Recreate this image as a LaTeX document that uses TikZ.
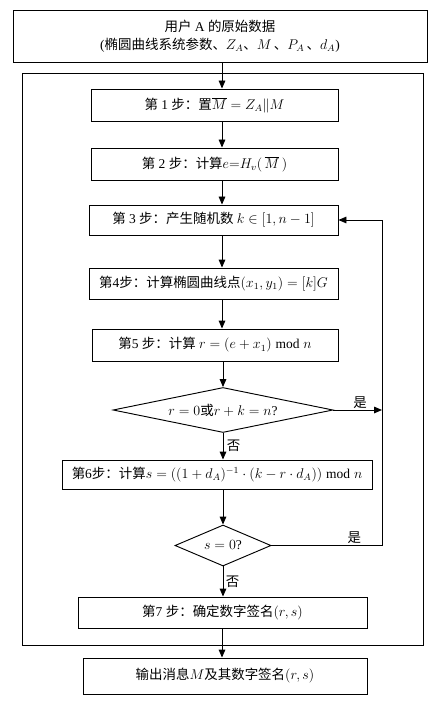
\documentclass[tikz,border=0pt]{standalone}
\usepackage{fontspec}
\setmainfont{Liberation Serif}
\newfontfamily\cjk{Noto Sans CJK SC}
\newcommand{\zh}[1]{{\cjk #1}}
\usetikzlibrary{shapes.geometric, arrows.meta, positioning, calc}

\begin{document}
\begin{tikzpicture}[
x=0.03cm, y=-0.03cm,
font=\fontsize{11.5pt}{15pt}\selectfont,
box/.style={rectangle, draw, line width=0.8pt, inner sep=0pt, align=center, fill=white},
cond/.style={diamond, draw, line width=0.8pt, inner sep=0pt, aspect=4},
lbl/.style={inner sep=1pt},
arrow/.style={-{Triangle[length=2.4mm, width=2mm]}, line width=0.8pt}
]
\useasboundingbox (0,0) rectangle (441,705);
\coordinate (ax) at (222,0);
\coordinate (loop) at (382,0);

% outer frame of the signing steps
\draw[line width=0.8pt] (22,73) rectangle (423,645);

\node[box, minimum width=12.42cm, minimum height=1.56cm] (data) at (220,36)
  {\zh{用户}~A~\zh{的原始数据}\\(\zh{椭圆曲线系统参数、}$Z_A$\zh{、}$M$\,\zh{、}$P_A$\,\zh{、}$d_A$)};
\node[box, minimum width=7.41cm, minimum height=0.96cm] (s1) at (214.5,105)
  {\zh{第}~1~\zh{步：置}$\overline{M}=Z_A\|M$};
\node[box, minimum width=7.41cm, minimum height=0.96cm] (s2) at (214.5,164)
  {\zh{第}~2~\zh{步：计算}$e{=}H_v(\,\overline{M}\,)$};
\node[box, minimum width=7.47cm, minimum height=0.9cm] (s3) at (213.5,220)
  {\zh{第}~3~\zh{步：产生随机数}~$k\in[1,n-1]$};
\node[box, minimum width=7.47cm, minimum height=0.93cm] (s4) at (213.5,283.5)
  {\zh{第}4\zh{步：计算椭圆曲线点}$(x_1,y_1)=[k]G$};
\node[box, minimum width=7.38cm, minimum height=0.96cm] (s5) at (215,345)
  {\zh{第}5~\zh{步：计算}~$r=(e+x_1)\bmod n$};
\node[cond, minimum width=6.6cm, minimum height=1.35cm] (d1) at (223,410)
  {$r=0$\zh{或}$r+k=n$?};
\node[box, minimum width=9.3cm, minimum height=0.87cm] (s6) at (217,474.5)
  {\zh{第}6\zh{步：计算}$s=((1+d_A)^{-1}\cdot(k-r\cdot d_A))\bmod n$};
\node[cond, minimum width=2.88cm, minimum height=1.23cm] (d2) at (223,545.5)
  {$s=0$?};
\node[box, minimum width=8.67cm, minimum height=0.93cm] (s7) at (222.5,612.5)
  {\zh{第}7~\zh{步：确定数字签名}$(r,s)$};
\node[box, minimum width=8.52cm, minimum height=1.08cm] (out) at (225,676)
  {\zh{输出消息}$M$\zh{及其数字签名}$(r,s)$};

\draw[arrow] (data.south -| ax) -- (s1.north -| ax);
\draw[arrow] (s1.south -| ax) -- (s2.north -| ax);
\draw[arrow] (s2.south -| ax) -- (s3.north -| ax);
\draw[arrow] (s3.south -| ax) -- (s4.north -| ax);
\draw[arrow] (s4.south -| ax) -- (s5.north -| ax);
\draw[arrow] (s5.south -| d1) -- (d1.north);
\draw[arrow] (d1.south) -- (s6.north -| d1) node[lbl, midway, right=2pt] {\zh{否}};
\draw[arrow] (s6.south -| d2) -- (d2.north);
\draw[arrow] (d2.south) -- (s7.north -| d2) node[lbl, midway, right=1pt] {\zh{否}};
\draw[arrow] (s7.south -| ax) -- (out.north -| ax);

% retry loops back to step 3
\draw[arrow] (d1.east) -- (d1.east -| loop) node[lbl, pos=0.55, above] {\zh{是}};
\draw[arrow] (d2.east) -- (d2.east -| loop) node[lbl, pos=0.75, above] {\zh{是}}
  -- (s3.east -| loop) -- (s3.east);
\end{tikzpicture}
\end{document}
